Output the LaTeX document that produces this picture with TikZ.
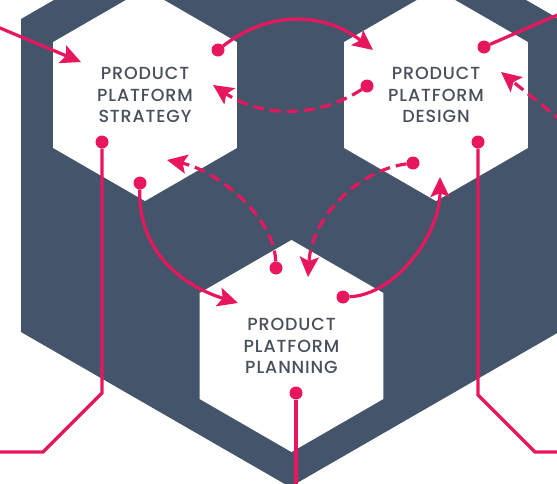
\documentclass[tikz,border=0pt]{standalone}
\usepackage{fontspec}
\setmainfont{Poppins}[UprightFont={* Medium}, LetterSpace=5]
\usetikzlibrary{shapes.geometric,arrows.meta}
\definecolor{slate}{RGB}{68,84,106}
\definecolor{mag}{RGB}{232,23,93}
\definecolor{txt}{RGB}{72,80,92}
\tikzset{
  hex/.style={regular polygon, regular polygon sides=6, shape border rotate=30,
    minimum size=212pt, inner sep=0pt, outer sep=0pt, fill=white, text=txt,
    align=center, font=\fontsize{17.5}{21.8}\selectfont},
  dot/.style={circle, fill=mag, minimum size=13pt, inner sep=0pt, outer sep=0pt},
  conn/.style={draw=mag, line width=3.2pt},
  dsh/.style={dash pattern=on 11pt off 6pt},
  arr/.style={-{Stealth[length=20pt,width=19pt,inset=4pt]}}
}
\begin{document}
\begin{tikzpicture}[x=1pt,y=-1pt]
\useasboundingbox (0,0) rectangle (557,483);
\clip (0,0) rectangle (557,483);
% big background hexagon
\fill[slate] (290,-136) -- (559,19) -- (559,332) -- (290,487) -- (21,332) -- (21,19) -- cycle;
% hexagon nodes
\node[hex] (S) at (145,95) {PRODUCT\\PLATFORM\\STRATEGY};
\node[hex] (D) at (436,95) {PRODUCT\\PLATFORM\\DESIGN};
\node[hex] (P) at (291.5,346) {PRODUCT\\PLATFORM\\PLANNING};
% dots
\node[dot] (sA) at (218,50) {};
\node[dot] (dA) at (367,86) {};
\node[dot] (dB) at (484,47) {};
\node[dot] (sB) at (102,142) {};
\node[dot] (dC) at (478,142) {};
\node[dot] (pA) at (296,393) {};
\node[dot] (sC) at (140,183) {};
\node[dot] (pB) at (276,268) {};
\node[dot] (pC) at (343,297) {};
\node[dot] (dD) at (413,163) {};
% arrow tips
\coordinate (tS1) at (81,62);
\coordinate (tD1) at (373,50);
\coordinate (tS2) at (213,85);
\coordinate (tD2) at (501,72);
\coordinate (tP1) at (238,303);
\coordinate (tS3) at (167,160);
\coordinate (tD3) at (440,177);
\coordinate (tP2) at (308,277);
% free ends and bends
\coordinate (e1) at (-6,25.5);
\coordinate (e2) at (563,12.5);
\coordinate (e3) at (563,122);
\coordinate (e4) at (-6,452);
\coordinate (e5) at (563,452);
\coordinate (e6) at (296,490);
\coordinate (b1) at (102,393);
\coordinate (b2) at (43,452);
\coordinate (b3) at (478,395);
\coordinate (b4) at (535,452);
% connectors
\draw[conn,arr] (e1) -- (tS1);
\draw[conn,arr] (sA) .. controls (268,11) and (323,11) .. (tD1);
\draw[conn,dsh,arr] (dA) .. controls (318,118) and (262,118) .. (tS2);
\draw[conn] (e2) -- (dB);
\draw[conn,dsh,arr] (e3) -- (tD2);
\draw[conn] (sB) -- (b1) -- (b2) -- (e4);
\draw[conn] (dC) -- (b3) -- (b4) -- (e5);
\draw[conn] (pA) -- (e6);
\draw[conn,arr] (sC) .. controls (138,250) and (180,285) .. (tP1);
\draw[conn,dsh,arr] (pB) .. controls (274,215) and (215,170) .. (tS3);
\draw[conn,arr] (pC) .. controls (395,295) and (440,235) .. (tD3);
\draw[conn,dsh,arr] (dD) .. controls (360,170) and (312,215) .. (tP2);
\end{tikzpicture}
\end{document}
